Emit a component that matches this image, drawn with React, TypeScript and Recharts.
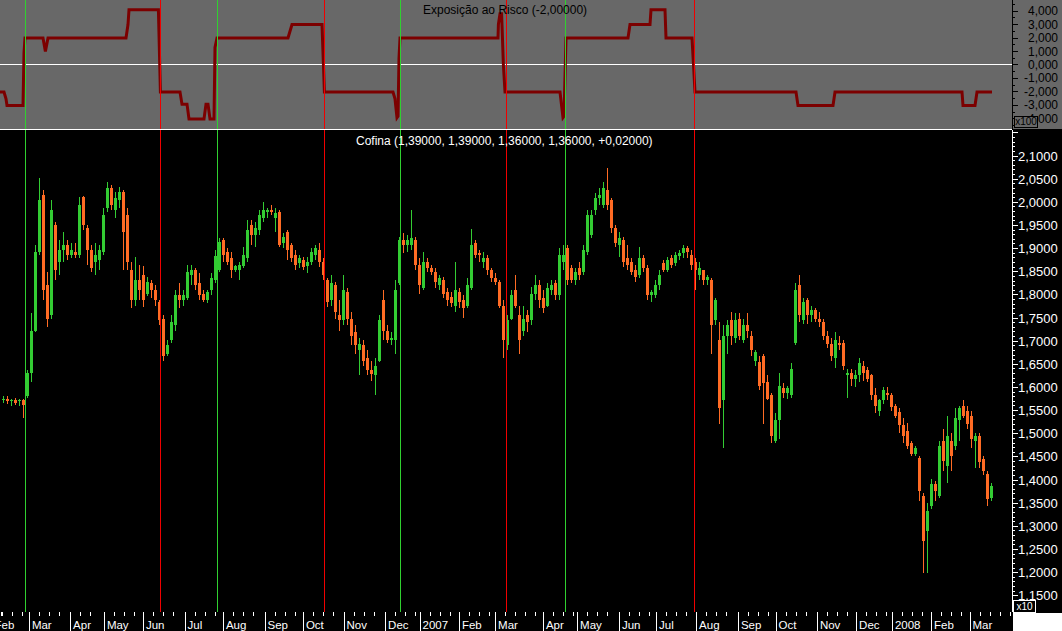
import React from "react";
import { Bar, ComposedChart, Line, LineChart, ReferenceLine, XAxis, YAxis } from "recharts";

// Cofina daily bars, grouped two sessions per bar (Feb 2006 - Mar 2008)
const OPEN = [
  1.572, 1.576, 1.57, 1.572, 1.57, 1.572, 1.581, 1.632, 1.723, 1.892,
  2.016, 1.821, 1.756, 1.951, 1.87, 1.897, 1.907, 1.886, 1.892, 1.886,
  2.011, 1.944, 1.897, 1.87, 1.875, 1.892, 1.987, 2.031, 1.983, 2.005,
  2.022, 1.972, 1.853, 1.788, 1.832, 1.842, 1.803, 1.825, 1.81, 1.784,
  1.749, 1.673, 1.702, 1.734, 1.799, 1.788, 1.793, 1.842, 1.853, 1.825,
  1.803, 1.788, 1.81, 1.832, 1.853, 1.918, 1.892, 1.879, 1.853, 1.853,
  1.862, 1.879, 1.951, 1.929, 1.94, 1.966, 1.979, 1.983, 1.966, 1.979,
  1.912, 1.935, 1.907, 1.886, 1.868, 1.875, 1.862, 1.87, 1.886, 1.897,
  1.87, 1.832, 1.788, 1.821, 1.756, 1.745, 1.806, 1.749, 1.719, 1.68,
  1.691, 1.663, 1.637, 1.626, 1.658, 1.788, 1.723, 1.702, 1.702, 1.825,
  1.918, 1.907, 1.907, 1.918, 1.864, 1.814, 1.87, 1.858, 1.849, 1.821,
  1.832, 1.806, 1.795, 1.777, 1.806, 1.788, 1.777, 1.814, 1.912, 1.89,
  1.87, 1.879, 1.853, 1.836, 1.827, 1.777, 1.691, 1.749, 1.81, 1.756,
  1.723, 1.756, 1.745, 1.803, 1.821, 1.793, 1.777, 1.81, 1.825, 1.799,
  1.87, 1.901, 1.858, 1.832, 1.858, 1.849, 1.892, 1.929, 1.983, 2.009,
  1.994, 2.026, 2.005, 1.944, 1.907, 1.918, 1.879, 1.87, 1.853, 1.842,
  1.879, 1.858, 1.799, 1.799, 1.821, 1.868, 1.853, 1.879, 1.868, 1.884,
  1.89, 1.901, 1.886, 1.87, 1.842, 1.853, 1.832, 1.832, 1.745, 1.702,
  1.572, 1.712, 1.745, 1.706, 1.749, 1.702, 1.734, 1.712, 1.658, 1.654,
  1.669, 1.611, 1.583, 1.485, 1.529, 1.598, 1.589, 1.583, 1.697, 1.821,
  1.745, 1.788, 1.756, 1.767, 1.749, 1.741, 1.712, 1.695, 1.663, 1.697,
  1.697, 1.626, 1.632, 1.619, 1.626, 1.647, 1.637, 1.626, 1.583, 1.55,
  1.572, 1.589, 1.583, 1.561, 1.546, 1.518, 1.507, 1.479, 1.457, 1.448,
  1.366, 1.29, 1.345, 1.392, 1.366, 1.485, 1.431, 1.485, 1.474, 1.529,
  1.561, 1.55, 1.539, 1.485, 1.496, 1.446, 1.414, 1.362,
];
const HIGH = [
  1.581, 1.581, 1.576, 1.578, 1.576, 1.576, 1.637, 1.76, 1.907, 2.052,
  2.026, 1.849, 2.005, 1.957, 1.918, 1.935, 1.918, 1.912, 1.912, 2.011,
  2.013, 1.951, 1.907, 1.912, 1.907, 1.987, 2.044, 2.037, 2.022, 2.033,
  2.026, 1.987, 1.87, 1.881, 1.864, 1.862, 1.838, 1.832, 1.821, 1.788,
  1.756, 1.702, 1.756, 1.81, 1.825, 1.81, 1.864, 1.864, 1.858, 1.847,
  1.81, 1.81, 1.847, 1.897, 1.922, 1.922, 1.901, 1.892, 1.864, 1.87,
  1.903, 1.961, 1.961, 1.957, 1.983, 2.0, 1.987, 1.994, 1.987, 1.983,
  1.933, 1.94, 1.912, 1.897, 1.886, 1.881, 1.881, 1.901, 1.907, 1.912,
  1.879, 1.836, 1.842, 1.827, 1.788, 1.842, 1.814, 1.762, 1.734, 1.706,
  1.702, 1.68, 1.658, 1.663, 1.756, 1.81, 1.734, 1.719, 1.832, 1.925,
  1.933, 1.929, 1.983, 1.925, 1.879, 1.892, 1.879, 1.864, 1.858, 1.842,
  1.838, 1.814, 1.806, 1.87, 1.814, 1.799, 1.836, 1.942, 1.918, 1.897,
  1.892, 1.886, 1.858, 1.847, 1.832, 1.788, 1.756, 1.81, 1.842, 1.777,
  1.777, 1.767, 1.816, 1.842, 1.832, 1.81, 1.825, 1.832, 1.832, 1.901,
  1.907, 1.907, 1.864, 1.858, 1.87, 1.907, 1.983, 1.983, 2.02, 2.031,
  2.044, 2.074, 2.009, 1.951, 1.935, 1.925, 1.907, 1.879, 1.864, 1.903,
  1.886, 1.864, 1.81, 1.832, 1.853, 1.875, 1.881, 1.886, 1.892, 1.897,
  1.907, 1.905, 1.897, 1.879, 1.87, 1.853, 1.842, 1.836, 1.793, 1.741,
  1.734, 1.745, 1.762, 1.76, 1.76, 1.749, 1.76, 1.723, 1.68, 1.669,
  1.673, 1.626, 1.587, 1.544, 1.632, 1.609, 1.604, 1.652, 1.825, 1.842,
  1.793, 1.793, 1.777, 1.771, 1.762, 1.749, 1.723, 1.706, 1.719, 1.712,
  1.702, 1.641, 1.641, 1.637, 1.663, 1.658, 1.645, 1.63, 1.598, 1.576,
  1.6, 1.6, 1.589, 1.565, 1.555, 1.533, 1.524, 1.485, 1.474, 1.453,
  1.373, 1.351, 1.403, 1.399, 1.485, 1.511, 1.539, 1.502, 1.555, 1.561,
  1.572, 1.561, 1.55, 1.502, 1.502, 1.453, 1.42, 1.394,
];
const LOW = [
  1.567, 1.565, 1.561, 1.563, 1.559, 1.533, 1.578, 1.611, 1.719, 1.886,
  1.788, 1.73, 1.749, 1.832, 1.842, 1.87, 1.875, 1.879, 1.879, 1.879,
  1.94, 1.864, 1.849, 1.842, 1.853, 1.886, 1.979, 1.983, 1.966, 1.987,
  1.853, 1.853, 1.771, 1.777, 1.788, 1.773, 1.797, 1.793, 1.777, 1.734,
  1.658, 1.669, 1.697, 1.723, 1.771, 1.777, 1.788, 1.821, 1.81, 1.788,
  1.784, 1.782, 1.799, 1.825, 1.849, 1.87, 1.864, 1.836, 1.849, 1.832,
  1.858, 1.87, 1.907, 1.903, 1.929, 1.957, 1.966, 1.972, 1.935, 1.903,
  1.901, 1.875, 1.87, 1.853, 1.858, 1.853, 1.847, 1.864, 1.875, 1.86,
  1.832, 1.773, 1.777, 1.749, 1.723, 1.734, 1.734, 1.691, 1.673, 1.626,
  1.647, 1.626, 1.615, 1.583, 1.654, 1.702, 1.697, 1.691, 1.673, 1.821,
  1.89, 1.892, 1.897, 1.853, 1.803, 1.81, 1.849, 1.842, 1.814, 1.81,
  1.793, 1.777, 1.773, 1.762, 1.771, 1.751, 1.771, 1.81, 1.879, 1.87,
  1.858, 1.842, 1.827, 1.821, 1.771, 1.663, 1.68, 1.745, 1.771, 1.673,
  1.712, 1.719, 1.734, 1.788, 1.771, 1.76, 1.773, 1.799, 1.788, 1.788,
  1.853, 1.821, 1.825, 1.821, 1.832, 1.842, 1.886, 1.922, 1.972, 1.994,
  1.987, 1.983, 1.933, 1.903, 1.881, 1.86, 1.853, 1.842, 1.827, 1.836,
  1.849, 1.788, 1.784, 1.793, 1.81, 1.849, 1.849, 1.858, 1.862, 1.875,
  1.879, 1.879, 1.853, 1.81, 1.832, 1.821, 1.821, 1.673, 1.734, 1.522,
  1.47, 1.673, 1.691, 1.697, 1.702, 1.697, 1.706, 1.669, 1.647, 1.594,
  1.522, 1.572, 1.481, 1.481, 1.489, 1.578, 1.576, 1.578, 1.691, 1.741,
  1.738, 1.738, 1.741, 1.741, 1.73, 1.702, 1.686, 1.658, 1.643, 1.68,
  1.637, 1.578, 1.604, 1.6, 1.611, 1.615, 1.611, 1.572, 1.544, 1.539,
  1.565, 1.572, 1.55, 1.533, 1.502, 1.481, 1.468, 1.453, 1.453, 1.355,
  1.2, 1.2, 1.338, 1.355, 1.362, 1.42, 1.394, 1.42, 1.464, 1.485,
  1.533, 1.511, 1.47, 1.425, 1.425, 1.41, 1.344, 1.355,
];
const CLOSE = [
  1.576, 1.57, 1.572, 1.567, 1.574, 1.563, 1.632, 1.723, 1.892, 2.005,
  1.81, 1.749, 1.983, 1.853, 1.897, 1.907, 1.886, 1.897, 1.886, 1.994,
  1.951, 1.897, 1.858, 1.886, 1.897, 1.972, 2.031, 1.994, 2.009, 2.022,
  1.935, 1.87, 1.788, 1.832, 1.81, 1.788, 1.827, 1.81, 1.788, 1.745,
  1.669, 1.691, 1.741, 1.799, 1.788, 1.799, 1.849, 1.853, 1.821, 1.799,
  1.788, 1.806, 1.836, 1.884, 1.914, 1.886, 1.87, 1.853, 1.862, 1.864,
  1.886, 1.94, 1.929, 1.944, 1.972, 1.983, 1.983, 1.979, 1.977, 1.907,
  1.925, 1.897, 1.879, 1.864, 1.879, 1.86, 1.87, 1.892, 1.901, 1.87,
  1.842, 1.784, 1.825, 1.762, 1.745, 1.81, 1.749, 1.712, 1.691, 1.695,
  1.658, 1.637, 1.63, 1.647, 1.745, 1.723, 1.702, 1.706, 1.81, 1.918,
  1.907, 1.918, 1.922, 1.864, 1.821, 1.87, 1.858, 1.849, 1.827, 1.836,
  1.803, 1.788, 1.782, 1.81, 1.784, 1.771, 1.821, 1.907, 1.886, 1.886,
  1.879, 1.853, 1.836, 1.827, 1.777, 1.702, 1.745, 1.799, 1.777, 1.702,
  1.749, 1.741, 1.803, 1.821, 1.788, 1.771, 1.814, 1.821, 1.799, 1.886,
  1.886, 1.832, 1.832, 1.849, 1.842, 1.897, 1.972, 1.972, 2.009, 2.016,
  2.031, 1.994, 1.944, 1.912, 1.922, 1.87, 1.864, 1.849, 1.838, 1.879,
  1.858, 1.799, 1.806, 1.821, 1.842, 1.853, 1.875, 1.864, 1.886, 1.89,
  1.901, 1.892, 1.864, 1.853, 1.858, 1.832, 1.838, 1.734, 1.788, 1.555,
  1.712, 1.734, 1.712, 1.745, 1.712, 1.734, 1.723, 1.68, 1.676, 1.604,
  1.609, 1.576, 1.496, 1.529, 1.604, 1.587, 1.598, 1.641, 1.81, 1.756,
  1.784, 1.756, 1.767, 1.749, 1.741, 1.712, 1.695, 1.669, 1.702, 1.691,
  1.647, 1.632, 1.619, 1.626, 1.652, 1.632, 1.619, 1.583, 1.561, 1.572,
  1.594, 1.583, 1.557, 1.539, 1.518, 1.496, 1.474, 1.457, 1.47, 1.377,
  1.269, 1.334, 1.392, 1.377, 1.474, 1.442, 1.496, 1.453, 1.533, 1.555,
  1.539, 1.522, 1.489, 1.496, 1.438, 1.42, 1.359, 1.388,
];

// "Exposição ao Risco" indicator (axis shown x100), positions in trading-day units
const EXPO_DAY = [
  0, 2, 3, 3.5, 11.5, 12, 12.5, 21.5, 22.7, 24, 63, 63.5, 64, 64.5, 79.2, 80.2,
  90, 91, 93.5, 94.5, 102, 103, 104, 105, 107, 107.5, 108.5, 144, 146, 161, 162.2,
  196.5, 197.5, 198.5, 199, 199.5, 200, 249, 249.2, 250, 250.8, 251.7, 252.5,
  280, 281.5, 282, 283, 314, 315, 325, 325.5, 332.5, 333, 346, 347.5,
  398, 399, 416.5, 417.5, 481, 481.5, 487.5, 488.5, 496,
];
const EXPO_VALUE = [
  -2, -2, -2.5, -3, -3, 0.9, 2, 2, 1, 2, 2, 2.5, 3, 4.1, 4.1, -2,
  -2, -2.9, -2.9, -4, -4, -2.9, -2.9, -4, -4, 1.3, 2, 2, 3, 3, -2,
  -2, -2.5, -3.9, -3.8, 0.5, 2, 2, 3, 3.8, 3.8, 0, -2,
  -2, -3.9, -3.8, 2, 2, 3, 3, 4.1, 4.1, 2, 2, -2,
  -2, -3, -3, -2, -2, -3, -3, -2, -2,
];

// signal lines (trading-day units)
const SIGNAL_DAY = [12.75, 80.25, 108.75, 162.25, 200.25, 253.25, 282.75, 347.25];
const SIGNAL_TYPE = ["buy", "sell", "buy", "sell", "buy", "sell", "buy", "sell"];

const MONTH_DAY = [
  -4, 14.7, 35.3, 52.2, 71.7, 92.5, 111.7, 132.5, 151.7, 172, 192.8, 210, 229.7,
  247.8, 271.7, 288.8, 309.7, 328.3, 348.3, 369.2, 388, 408.7, 428.3, 446.2, 465.8, 485,
];
const MONTH_LABEL = [
  "Feb", "Mar", "Apr", "May", "Jun", "Jul", "Aug", "Sep", "Oct", "Nov", "Dec", "2007", "Feb",
  "Mar", "Apr", "May", "Jun", "Jul", "Aug", "Sep", "Oct", "Nov", "Dec", "2008", "Feb", "Mar",
];

const X_DOMAIN: [number, number] = [0, 506];
const PRICE_DOMAIN: [number, number] = [1.115, 2.1562];
const EXPO_DOMAIN: [number, number] = [-4.741, 4.815];

const UP = "#33cc33";
const DOWN = "#ff6b24";
const SIGNAL_COLOR: Record<string, string> = { buy: "#30d030", sell: "#f00000" };
const FONT = "'Liberation Sans', Arial, sans-serif";

const bars = OPEN.map((o, i) => ({
  day: 2 * i + 1,
  open: o,
  high: HIGH[i],
  low: LOW[i],
  close: CLOSE[i],
}));

const expo = EXPO_DAY.map((d, i) => ({ day: d, v: EXPO_VALUE[i] }));

const monthSet = new Map(MONTH_DAY.map((d, i) => [d, MONTH_LABEL[i]]));
const xTicks: number[] = [];
MONTH_DAY.forEach((d, i) => {
  xTicks.push(d);
  const next = i + 1 < MONTH_DAY.length ? MONTH_DAY[i + 1] : X_DOMAIN[1] + 2;
  for (let t = d + 5; t < next - 2; t += 5) xTicks.push(t);
});

const expoTicks: number[] = [];
for (let i = -9; i <= 9; i++) expoTicks.push(i / 2);

const priceTicks: number[] = [];
for (let i = 112; i <= 215; i++) priceTicks.push(i / 100);

const fmt = (v: number, digits: number) => v.toFixed(digits).replace(".", ",");

function Candle(props: any) {
  const { x, width, payload } = props;
  let { y, height } = props;
  if (height < 0) {
    y += height;
    height = -height;
  }
  const { open, close, high, low } = payload;
  const color = close >= open ? UP : DOWN;
  const k = high === low ? 0 : height / (high - low);
  const top = y + (high - Math.max(open, close)) * k;
  const bot = y + (high - Math.min(open, close)) * k;
  const cx = Math.round(x + width / 2);
  return (
    <g>
      <line x1={cx + 0.5} x2={cx + 0.5} y1={y} y2={y + height} stroke={color} strokeWidth={1} />
      <rect x={cx - 1} y={top} width={3} height={Math.max(1, bot - top)} fill={color} />
    </g>
  );
}

function ExpoTick({ x, y, payload }: any) {
  const v = payload.value;
  const major = Math.abs(v - Math.round(v)) < 1e-6;
  return (
    <g>
      <line x1={x} x2={x + (major ? 6 : 3)} y1={y} y2={y} stroke="#000" />
      {major ? (
        <text x={x + 46} y={y + 4} textAnchor="end" fontSize={12} fill="#000" fontFamily={FONT}>
          {fmt(v, 3)}
        </text>
      ) : null}
    </g>
  );
}

function PriceTick({ x, y, payload }: any) {
  const i = Math.round(payload.value * 100);
  const major = i % 5 === 0;
  return (
    <g>
      <line x1={x} x2={x + (major ? 6 : 3)} y1={y} y2={y} stroke="#fff" />
      {major && i >= 115 && i <= 210 ? (
        <text x={x + 6} y={y + 4.5} fontSize={13} fill="#fff" fontFamily={FONT}>
          {fmt(i / 100, 4)}
        </text>
      ) : null}
    </g>
  );
}

function DateTick({ x, y, payload }: any) {
  const label = monthSet.get(payload.value);
  if (label === undefined) {
    return <line x1={x} x2={x} y1={y} y2={y + 4} stroke="#fff" />;
  }
  return (
    <g>
      <line x1={x} x2={x} y1={y} y2={y + 19} stroke="#fff" />
      <text x={x + 2.5} y={y + 17} fontSize={11.5} fill="#fff" fontFamily={FONT}>
        {label}
      </text>
    </g>
  );
}

export default function App() {
  return (
    <div style={{ position: "relative", width: 1062, height: 631, background: "#000", fontFamily: FONT, overflow: "hidden" }}>
      <style>{`body{margin:0} svg line, svg rect{shape-rendering:crispEdges}`}</style>

      <div style={{ position: "absolute", left: 0, top: 0, width: 1062, height: 129, background: "#686868" }}>
        <LineChart width={1062} height={129} data={expo} margin={{ top: 0, right: 0, bottom: 0, left: 0 }}>
          <XAxis dataKey="day" type="number" domain={X_DOMAIN} hide allowDataOverflow />
          <YAxis
            orientation="right"
            width={50}
            domain={EXPO_DOMAIN}
            ticks={expoTicks}
            interval={0}
            allowDataOverflow
            axisLine={{ stroke: "#000" }}
            tickLine={false}
            tickSize={0}
            tickMargin={0}
            tick={(p: any) => <ExpoTick {...p} />}
          />
          <ReferenceLine y={0} stroke="#fff" strokeWidth={1} />
          <Line
            dataKey="v"
            type="linear"
            stroke="#7c0000"
            strokeWidth={3}
            dot={false}
            activeDot={false}
            isAnimationActive={false}
          />
          {SIGNAL_DAY.map((d, i) => (
            <ReferenceLine key={i} x={d} stroke={SIGNAL_COLOR[SIGNAL_TYPE[i]]} strokeWidth={1} />
          ))}
        </LineChart>
      </div>
      <div style={{ position: "absolute", left: 0, top: 129, width: 1012, height: 1, background: "#fff" }} />

      <div style={{ position: "absolute", left: 0, top: 130 }}>
        <ComposedChart width={1062} height={501} data={bars} margin={{ top: 0, right: 0, bottom: 0, left: 0 }}>
          <XAxis
            dataKey="day"
            type="number"
            domain={X_DOMAIN}
            allowDataOverflow
            ticks={xTicks}
            interval={0}
            height={19}
            axisLine={false}
            tickLine={false}
            tickSize={0}
            tickMargin={0}
            tick={(p: any) => <DateTick {...p} />}
          />
          <YAxis
            orientation="right"
            width={50}
            domain={PRICE_DOMAIN}
            ticks={priceTicks}
            interval={0}
            allowDataOverflow
            axisLine={{ stroke: "#fff" }}
            tickLine={false}
            tickSize={0}
            tickMargin={0}
            tick={(p: any) => <PriceTick {...p} />}
          />
          <Bar
            dataKey={(d: any) => [d.low, d.high]}
            barSize={3}
            isAnimationActive={false}
            activeBar={false}
            shape={(p: any) => <Candle {...p} />}
          />
          {SIGNAL_DAY.map((d, i) => (
            <ReferenceLine key={i} x={d} stroke={SIGNAL_COLOR[SIGNAL_TYPE[i]]} strokeWidth={1} />
          ))}
        </ComposedChart>
      </div>

      <div style={{ position: "absolute", left: 423, top: 3, fontSize: 12, lineHeight: "14px", color: "#000", whiteSpace: "nowrap" }}>
        Exposição ao Risco (-2,00000)
      </div>
      <div style={{ position: "absolute", left: 356, top: 134, fontSize: 12, lineHeight: "14px", color: "#fff", whiteSpace: "nowrap" }}>
        Cofina (1,39000, 1,39000, 1,36000, 1,36000, +0,02000)
      </div>

      <div
        style={{
          position: "absolute", left: 1014, top: 116, width: 22, height: 10, border: "1px solid #000",
          background: "#686868", fontSize: 10, lineHeight: "10px", color: "#000", textAlign: "center",
        }}
      >
        x100
      </div>
      <div
        style={{
          position: "absolute", left: 1013, top: 600, width: 21, height: 11, border: "1px solid #fff",
          background: "#000", fontSize: 10, lineHeight: "11px", color: "#fff", textAlign: "center",
        }}
      >
        x10
      </div>
      <div style={{ position: "absolute", left: 1013, top: 613, width: 49, height: 18, background: "#fff" }} />
    </div>
  );
}
